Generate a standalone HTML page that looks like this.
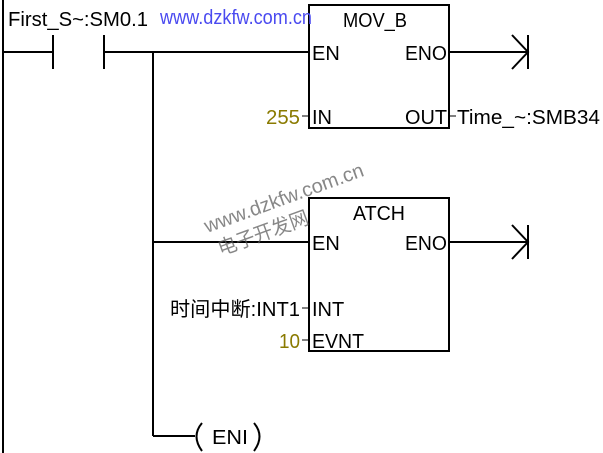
<!DOCTYPE html>
<html><head><meta charset="utf-8"><style>
html,body{margin:0;padding:0;background:#fff;width:603px;height:453px;overflow:hidden}
text{font-family:"Liberation Sans","Noto Sans CJK SC",sans-serif;font-size:20px;fill:#000}
</style></head><body>
<svg width="603" height="453" viewBox="0 0 603 453" xmlns="http://www.w3.org/2000/svg">
<g stroke="#000" stroke-width="2" fill="none">
<line x1="3" y1="0" x2="3" y2="453"/>
<line x1="3" y1="52" x2="53" y2="52"/>
<line x1="53" y1="35" x2="53" y2="69"/>
<line x1="104" y1="35" x2="104" y2="69"/>
<line x1="104" y1="52" x2="309" y2="52"/>
<line x1="153" y1="52" x2="153" y2="436"/>
<line x1="153" y1="242" x2="309" y2="242"/>
<line x1="153" y1="436" x2="195" y2="436"/>
<rect x="309" y="5" width="140" height="123"/>
<rect x="309" y="198" width="140" height="153"/>
<line x1="449" y1="52" x2="528" y2="52"/>
<line x1="528" y1="35" x2="528" y2="69"/>
<polyline points="512,35 528,52 512,69"/>
<line x1="449" y1="242" x2="528" y2="242"/>
<line x1="528" y1="225" x2="528" y2="259"/>
<polyline points="512,225 528,242 512,259"/>
<path d="M202,423 Q191,436 202,451"/>
<path d="M254,423 Q265,436 254,451"/>
</g>
<g stroke="#000" stroke-width="1">
<line x1="302" y1="116" x2="309" y2="116"/>
<line x1="449" y1="116" x2="456" y2="116"/>
<line x1="302" y1="308" x2="309" y2="308"/>
<line x1="302" y1="340" x2="309" y2="340"/>
</g>
<text x="8" y="26" textLength="140" lengthAdjust="spacingAndGlyphs">First_S~:SM0.1</text>
<text x="160" y="24" textLength="152" lengthAdjust="spacingAndGlyphs" style="fill:#4a4af0">www.dzkfw.com.cn</text>
<text x="343" y="27" textLength="64" lengthAdjust="spacingAndGlyphs">MOV_B</text>
<text x="312" y="60">EN</text>
<text x="405" y="60" textLength="42" lengthAdjust="spacingAndGlyphs">ENO</text>
<text x="266" y="124" textLength="34" lengthAdjust="spacingAndGlyphs" style="fill:#8a7a00">255</text>
<text x="312" y="124">IN</text>
<text x="405" y="124" textLength="42" lengthAdjust="spacingAndGlyphs">OUT</text>
<text x="457" y="124" textLength="143" lengthAdjust="spacingAndGlyphs">Time_~:SMB34</text>
<text x="353" y="220" textLength="52" lengthAdjust="spacingAndGlyphs">ATCH</text>
<text x="312" y="250">EN</text>
<text x="405" y="250" textLength="42" lengthAdjust="spacingAndGlyphs">ENO</text>
<text x="170" y="316" textLength="130" lengthAdjust="spacingAndGlyphs">时间中断:INT1</text>
<text x="312" y="316">INT</text>
<text x="279" y="348" textLength="21" lengthAdjust="spacingAndGlyphs" style="fill:#8a7a00">10</text>
<text x="312" y="348" textLength="52" lengthAdjust="spacingAndGlyphs">EVNT</text>
<text x="212" y="444" textLength="36" lengthAdjust="spacingAndGlyphs">ENI</text>
<g transform="rotate(-20 210 232)" style="opacity:0.7">
<text x="207" y="232" textLength="168" lengthAdjust="spacingAndGlyphs" style="fill:#555">www.dzkfw.com.cn</text>
<text x="212" y="258" textLength="95" lengthAdjust="spacingAndGlyphs" style="fill:#555">电子开发网</text>
</g>
</svg>
</body></html>
